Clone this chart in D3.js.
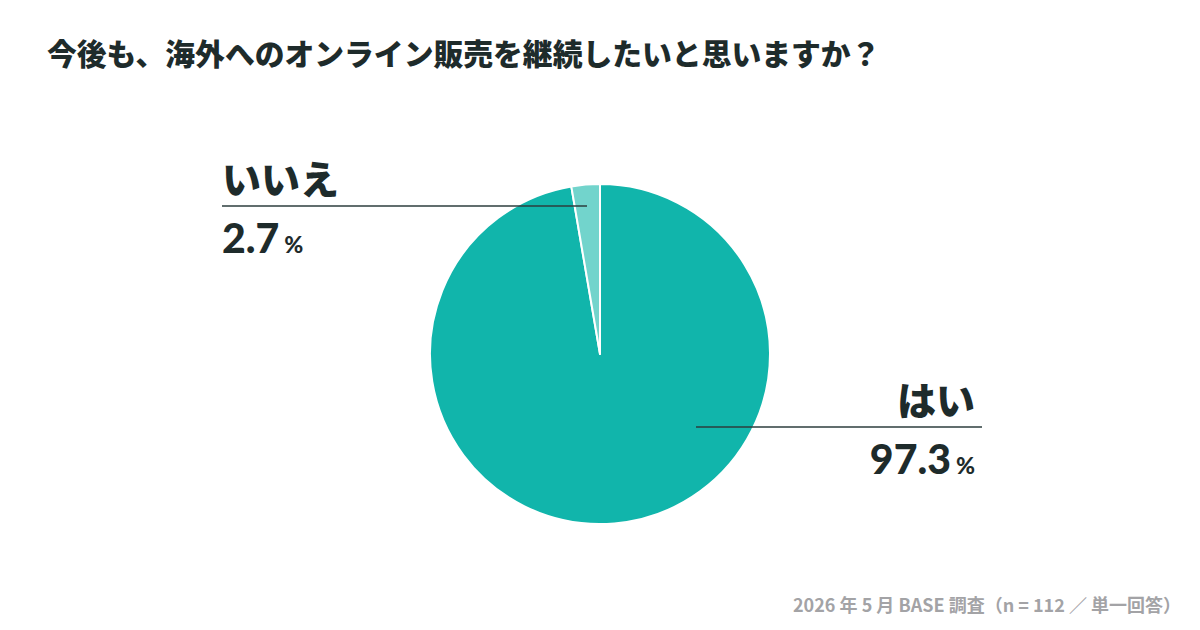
<!DOCTYPE html>
<html>
<head>
<meta charset="utf-8">
<script src="https://cdn.jsdelivr.net/npm/d3@7"></script>
<style>
  body { margin: 0; background: #ffffff; }
  svg { display: block; font-family: "Noto Sans CJK JP", sans-serif; }
</style>
</head>
<body>
<svg id="chart" width="1200" height="630"></svg>
<script>
// chart data
const labels = ['はい', 'いいえ'];
const values = [97.3, 2.7];
const colors = ['#11b5ab', '#72d4cc'];

const title = '今後も、海外へのオンライン販売を継続したいと思いますか？';
const note = '2026 年 5 月 BASE 調査（n = 112 ／ 単一回答）';

const width = 1200, height = 630;
const cx = 600, cy = 354, radius = 170;

const svg = d3.select('#chart');

// Title
svg.append('text')
    .attr('x', 47).attr('y', 65)
    .attr('font-size', 29.8).attr('font-weight', 900)
    .attr('fill', '#1e2b2b')
    .text(title);

// Pie
const pie = d3.pie().sort(null).value(d => d);
const arc = d3.arc().innerRadius(0).outerRadius(radius);
const arcs = pie(values);

const g = svg.append('g').attr('transform', `translate(${cx},${cy})`);
g.selectAll('path')
    .data(arcs)
    .enter().append('path')
    .attr('d', arc)
    .attr('fill', (d, i) => colors[i])
    .attr('stroke', '#ffffff')
    .attr('stroke-width', 2)
    .attr('stroke-linejoin', 'round');

// Labels: "yes" on the right, "no" on the left
const labelPos = [
    { x1: 696, x2: 982, y: 427, anchor: 'end', tx: 975 },
    { x1: 222, x2: 587, y: 206, anchor: 'start', tx: 222 }
];

labelPos.forEach((p, i) => {
    svg.append('line')
        .attr('x1', p.x1).attr('x2', p.x2)
        .attr('y1', p.y).attr('y2', p.y)
        .attr('stroke', '#2c3e3e').attr('stroke-width', 1.3);

    svg.append('text')
        .attr('x', p.tx).attr('y', p.y - 12)
        .attr('text-anchor', p.anchor)
        .attr('font-size', 39).attr('font-weight', 900)
        .attr('fill', '#1e2b2b')
        .text(labels[i]);

    const t = svg.append('text')
        .attr('x', p.tx).attr('y', p.y + 47)
        .attr('text-anchor', p.anchor)
        .attr('font-family', 'Lato, "Noto Sans", sans-serif')
        .attr('font-weight', 900)
        .attr('fill', '#1e2b2b');
    t.append('tspan').attr('font-size', 41).text(d3.format('.1f')(values[i]));
    t.append('tspan').attr('font-size', 23).attr('dx', 5).text('%');
});

// Source note
svg.append('text')
    .attr('x', 1181).attr('y', 612)
    .attr('text-anchor', 'end')
    .attr('font-size', 18).attr('font-weight', 700)
    .attr('fill', '#a3a3a6')
    .text(note);
</script>
</body>
</html>
